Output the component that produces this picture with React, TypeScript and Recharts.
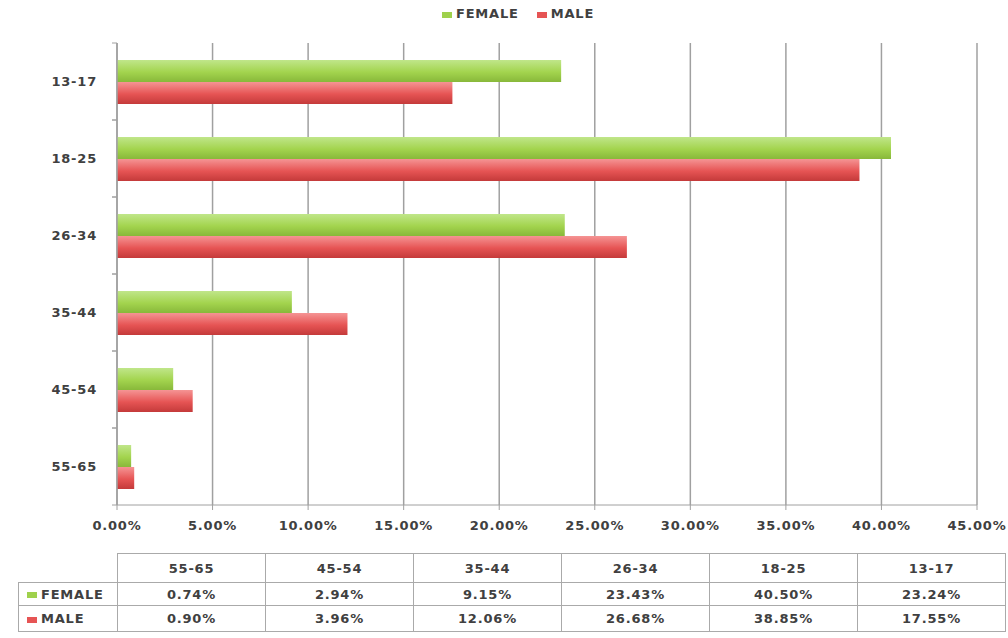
import React from 'react'
import { BarChart, Bar, XAxis, YAxis, CartesianGrid } from 'recharts'

const AGE_GROUPS = ['55-65', '45-54', '35-44', '26-34', '18-25', '13-17']
const FEMALE = [0.74, 2.94, 9.15, 23.43, 40.5, 23.24]
const MALE = [0.9, 3.96, 12.06, 26.68, 38.85, 17.55]
const X_TICKS = [0, 5, 10, 15, 20, 25, 30, 35, 40, 45]
const SERIES = ['FEMALE', 'MALE']

const FONT = "'DejaVu Sans', Verdana, sans-serif"
const TEXT = '#404040'
const GRID = '#a0a0a0'
const GREEN = '#9fd14c'
const RED = '#e65454'
const BAND = 77
const SPACING = 0.8

const data = AGE_GROUPS.map((age, i) => ({ age, female: FEMALE[i], male: MALE[i] }))

const pct = (v: number) => `${v.toFixed(2)}%`

function CategoryTick({ x, y, payload }: any) {
  return (
    <g>
      <line x1={x + 3} x2={x + 8} y1={y - BAND / 2} y2={y - BAND / 2} stroke={GRID} />
      <line x1={x + 3} x2={x + 8} y1={y + BAND / 2} y2={y + BAND / 2} stroke={GRID} />
      <text x={x - 12} y={y} dy="0.35em" textAnchor="end" fill={TEXT} letterSpacing={SPACING}
        fontSize={13} fontWeight="bold" fontFamily={FONT}>
        {payload.value}
      </text>
    </g>
  )
}

function Marker({ color }: { color: string }) {
  return <span style={{ display: 'inline-block', width: 10, height: 6, background: color, marginRight: 4, verticalAlign: 'middle' }} />
}

const cell: React.CSSProperties = {
  border: `1.5px solid #aaa`, textAlign: 'center', padding: 0, letterSpacing: SPACING,
  fontSize: 13, fontWeight: 'bold', color: TEXT, fontFamily: FONT,
}

export default function App() {
  return (
    <div style={{ position: 'absolute', left: 0, top: 0, width: 1008, height: 638, background: '#fff', fontFamily: FONT }}>
      <div style={{ position: 'absolute', top: 6, left: 442, fontSize: 13, fontWeight: 'bold', color: TEXT, whiteSpace: 'nowrap', letterSpacing: SPACING }}>
        <Marker color={GREEN} />{SERIES[0]}
        <span style={{ display: 'inline-block', width: 18 }} />
        <Marker color={RED} />{SERIES[1]}
      </div>
      <BarChart width={1008} height={545} data={data} layout="vertical"
        margin={{ top: 43, right: 31, bottom: 0, left: 0 }} barSize={22} barGap={0}>
        <defs>
          <linearGradient id="gFemale" x1="0" y1="0" x2="0" y2="1">
            <stop offset="0%" stopColor="#c0e68a" />
            <stop offset="55%" stopColor="#a3d44e" />
            <stop offset="100%" stopColor="#88b83a" />
          </linearGradient>
          <linearGradient id="gMale" x1="0" y1="0" x2="0" y2="1">
            <stop offset="0%" stopColor="#f59494" />
            <stop offset="55%" stopColor="#e65454" />
            <stop offset="100%" stopColor="#c43a3a" />
          </linearGradient>
        </defs>
        <CartesianGrid horizontal={false} vertical stroke={GRID} strokeWidth={1.5} />
        <XAxis type="number" domain={[0, 45]} ticks={X_TICKS} tickFormatter={pct}
          height={40} stroke={GRID} tickSize={5} tickMargin={11} interval={0}
          tick={{ fill: TEXT, fontSize: 13, fontWeight: 'bold', fontFamily: FONT, letterSpacing: SPACING }} />
        <YAxis type="category" dataKey="age" reversed width={117} stroke={GRID}
          strokeWidth={1.5} tickLine={false} tick={<CategoryTick />} interval={0} />
        <Bar dataKey="female" name={SERIES[0]} fill="url(#gFemale)" isAnimationActive={false} />
        <Bar dataKey="male" name={SERIES[1]} fill="url(#gMale)" isAnimationActive={false} />
      </BarChart>
      <table style={{ position: 'absolute', left: 18, top: 553, borderCollapse: 'collapse', tableLayout: 'fixed' }}>
        <colgroup>
          <col style={{ width: 99 }} />
          {AGE_GROUPS.map(a => <col key={a} style={{ width: 148 }} />)}
        </colgroup>
        <tbody>
          <tr style={{ height: 29 }}>
            <td style={{ ...cell, border: 'none' }} />
            {AGE_GROUPS.map(a => <td key={a} style={cell}>{a}</td>)}
          </tr>
          <tr style={{ height: 23 }}>
            <td style={{ ...cell, textAlign: 'left', paddingLeft: 8, whiteSpace: 'nowrap' }}><Marker color={GREEN} />{SERIES[0]}</td>
            {FEMALE.map((v, i) => <td key={i} style={cell}>{pct(v)}</td>)}
          </tr>
          <tr style={{ height: 26 }}>
            <td style={{ ...cell, textAlign: 'left', paddingLeft: 8, whiteSpace: 'nowrap' }}><Marker color={RED} />{SERIES[1]}</td>
            {MALE.map((v, i) => <td key={i} style={cell}>{pct(v)}</td>)}
          </tr>
        </tbody>
      </table>
    </div>
  )
}
